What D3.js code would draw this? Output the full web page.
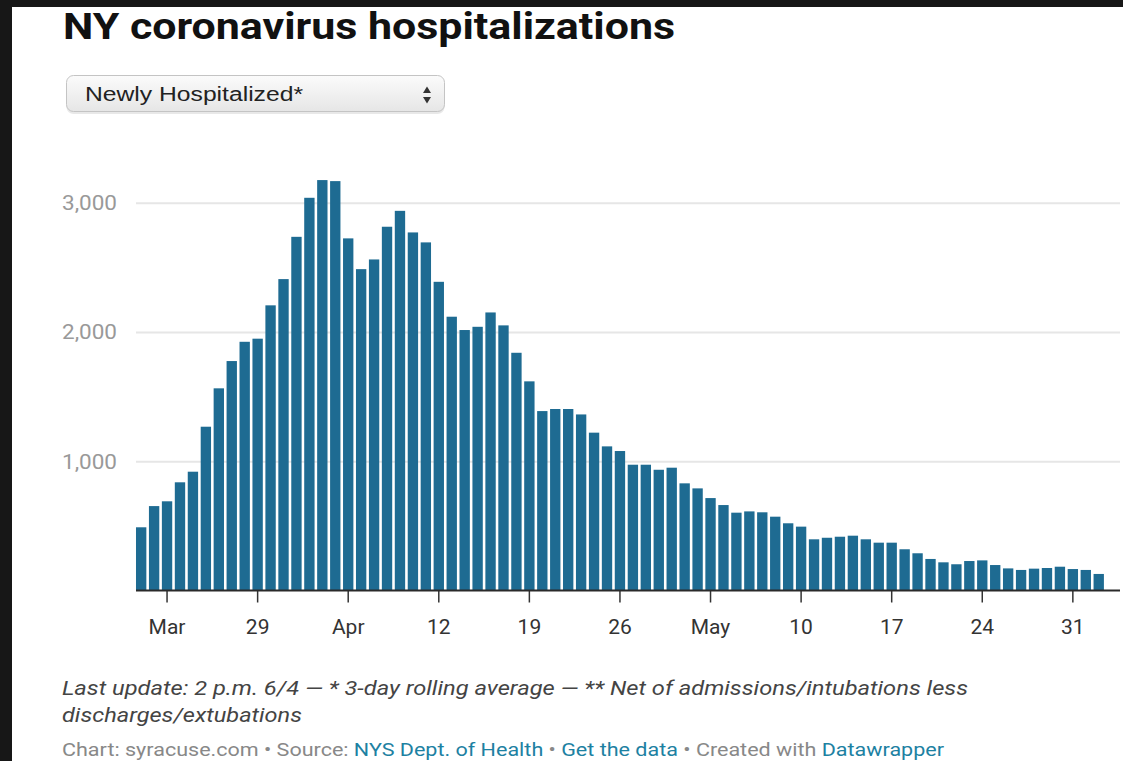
<!DOCTYPE html>
<html><head><meta charset="utf-8">
<script src="https://cdn.jsdelivr.net/npm/d3@7"></script>
<style>
html,body{margin:0;padding:0;background:#171717;}
svg{display:block;}
</style></head>
<body>
<svg id="c" width="1123" height="761"></svg>
<script>
// ---------- data ----------
const dates = [
 "2020-03-20","2020-03-21","2020-03-22","2020-03-23","2020-03-24","2020-03-25","2020-03-26","2020-03-27","2020-03-28","2020-03-29","2020-03-30","2020-03-31",
 "2020-04-01","2020-04-02","2020-04-03","2020-04-04","2020-04-05","2020-04-06","2020-04-07","2020-04-08","2020-04-09","2020-04-10",
 "2020-04-11","2020-04-12","2020-04-13","2020-04-14","2020-04-15","2020-04-16","2020-04-17","2020-04-18","2020-04-19","2020-04-20",
 "2020-04-21","2020-04-22","2020-04-23","2020-04-24","2020-04-25","2020-04-26","2020-04-27","2020-04-28","2020-04-29","2020-04-30",
 "2020-05-01","2020-05-02","2020-05-03","2020-05-04","2020-05-05","2020-05-06","2020-05-07","2020-05-08","2020-05-09","2020-05-10",
 "2020-05-11","2020-05-12","2020-05-13","2020-05-14","2020-05-15","2020-05-16","2020-05-17","2020-05-18","2020-05-19","2020-05-20",
 "2020-05-21","2020-05-22","2020-05-23","2020-05-24","2020-05-25","2020-05-26","2020-05-27","2020-05-28","2020-05-29","2020-05-30",
 "2020-05-31","2020-06-01","2020-06-02"
];
const newlyHospitalized = [
 489, 653, 690, 837, 919, 1267, 1564, 1775, 1924, 1948, 2206, 2409,
 2736, 3038, 3175, 3167, 2724, 2486, 2561, 2814, 2937, 2770,
 2693, 2388, 2118, 2015, 2040, 2151, 2051, 1839, 1618, 1388,
 1404, 1404, 1362, 1221, 1115, 1079, 973, 973, 934, 950,
 829, 790, 715, 661, 602, 612, 605, 571, 520, 494,
 396, 408, 416, 424, 396, 370, 370, 319, 288, 244,
 218, 203, 228, 233, 197, 171, 159, 169, 174, 184,
 166, 159, 128
];
const xTickDates = ["2020-03-22","2020-03-29","2020-04-05","2020-04-12","2020-04-19","2020-04-26","2020-05-03","2020-05-10","2020-05-17","2020-05-24","2020-05-31"];
const xTickLabels = ["Mar","29","Apr","12","19","26","May","10","17","24","31"];
const yTickValues = [1000, 2000, 3000];

const titleText = "NY coronavirus hospitalizations";
const dropdownText = "Newly Hospitalized*";
const noteLine1 = "Last update: 2 p.m. 6/4 \u2014 * 3-day rolling average \u2014 ** Net of admissions/intubations less";
const noteLine2 = "discharges/extubations";
const creditParts = [
  {t: "Chart: syracuse.com \u2022 Source: ", link: false},
  {t: "NYS Dept. of Health", link: true},
  {t: " \u2022 ", link: false},
  {t: "Get the data", link: true},
  {t: " \u2022 Created with ", link: false},
  {t: "Datawrapper", link: true}
];

// ---------- layout ----------
const svg = d3.select("#c");
const W = 1123, H = 761;
const plotLeft = 136, plotRight = 1120;
const y0 = 590.5, y3000 = 202.7;

svg.append("rect").attr("width", W).attr("height", H).attr("fill", "#171717");
svg.append("rect").attr("x", 12).attr("y", 7).attr("width", W - 12).attr("height", H - 7).attr("fill", "#ffffff");

// title
svg.append("text").attr("x", 63).attr("y", 39)
  .attr("font-family", "Roboto, 'Liberation Sans', sans-serif").attr("font-weight", 700)
  .attr("font-size", 37).attr("fill", "#111")
  .attr("textLength", 612).attr("lengthAdjust", "spacingAndGlyphs")
  .text(titleText);

// dropdown
const defs = svg.append("defs");
const grad = defs.append("linearGradient").attr("id", "dd").attr("x1", 0).attr("y1", 0).attr("x2", 0).attr("y2", 1);
grad.append("stop").attr("offset", "0%").attr("stop-color", "#fbfbfb");
grad.append("stop").attr("offset", "100%").attr("stop-color", "#e6e6e6");
svg.append("rect").attr("x", 66.5).attr("y", 76.5).attr("width", 378).attr("height", 36).attr("rx", 7)
  .attr("fill", "#d8d8d8").attr("opacity", 0.6).attr("transform", "translate(0,1.5)");
svg.append("rect").attr("x", 66.5).attr("y", 75.5).attr("width", 378).attr("height", 36).attr("rx", 7)
  .attr("fill", "url(#dd)").attr("stroke", "#c4c4c4").attr("stroke-width", 1);
svg.append("text").attr("x", 85).attr("y", 101)
  .attr("font-family", "'Liberation Sans', Arial, sans-serif").attr("font-size", 20).attr("fill", "#222")
  .attr("textLength", 218).attr("lengthAdjust", "spacingAndGlyphs")
  .text(dropdownText);
svg.append("path").attr("d", "M423,93 L427,86.5 L431,93 Z").attr("fill", "#333");
svg.append("path").attr("d", "M423,97 L427,103.5 L431,97 Z").attr("fill", "#333");

// scales
const x = d3.scaleBand().domain(dates).range([134.7, 1105.2]).paddingInner(0.2).paddingOuter(0.1);
const y = d3.scaleLinear().domain([0, 3000]).range([y0, y3000]);

// y axis with gridlines
const yAxis = svg.append("g").attr("transform", `translate(${plotLeft},0)`)
  .call(d3.axisLeft(y).tickValues(yTickValues).tickFormat(d3.format(",")).tickSize(-(plotRight - plotLeft)));
yAxis.select(".domain").remove();
yAxis.selectAll(".tick line").attr("stroke", "#e6e6e6").attr("stroke-width", 2);
yAxis.selectAll(".tick text").attr("x", 62 - plotLeft).attr("text-anchor", "start").attr("dy", "0.35em")
  .attr("font-family", "Roboto, sans-serif").attr("font-size", 20).attr("fill", "#999")
  .attr("textLength", 55).attr("lengthAdjust", "spacingAndGlyphs");

// bars
svg.append("g").selectAll("rect").data(newlyHospitalized).join("rect")
  .attr("x", (d, i) => x(dates[i]))
  .attr("width", x.bandwidth())
  .attr("y", d => y(d))
  .attr("height", d => y(0) - y(d))
  .attr("fill", "#1e6b92");

// x axis
const xAxis = svg.append("g").attr("transform", `translate(0,${y0})`)
  .call(d3.axisBottom(x).tickValues(xTickDates).tickFormat((d, i) => xTickLabels[i]).tickSize(12).tickPadding(17));
xAxis.select(".domain").remove();
xAxis.selectAll(".tick line").attr("stroke", "#333").attr("stroke-width", 1.5);
xAxis.selectAll(".tick text").attr("font-family", "Roboto, sans-serif").attr("font-size", 21).attr("fill", "#333");
svg.append("line").attr("x1", plotLeft).attr("x2", plotRight).attr("y1", y0).attr("y2", y0)
  .attr("stroke", "#2a2a2a").attr("stroke-width", 2);

// notes
svg.append("text").attr("x", 62).attr("y", 695)
  .attr("font-family", "Roboto, sans-serif").attr("font-style", "italic").attr("font-size", 20).attr("fill", "#444")
  .attr("textLength", 906).attr("lengthAdjust", "spacingAndGlyphs")
  .text(noteLine1);
svg.append("text").attr("x", 62).attr("y", 722)
  .attr("font-family", "Roboto, sans-serif").attr("font-style", "italic").attr("font-size", 20).attr("fill", "#444")
  .attr("textLength", 240).attr("lengthAdjust", "spacingAndGlyphs")
  .text(noteLine2);
const credit = svg.append("text").attr("x", 62).attr("y", 756)
  .attr("font-family", "Roboto, sans-serif").attr("font-size", 18)
  .attr("textLength", 882).attr("lengthAdjust", "spacingAndGlyphs");
credit.selectAll("tspan").data(creditParts).join("tspan")
  .attr("fill", d => d.link ? "#1d81a2" : "#888")
  .text(d => d.t);
</script>
</body></html>
